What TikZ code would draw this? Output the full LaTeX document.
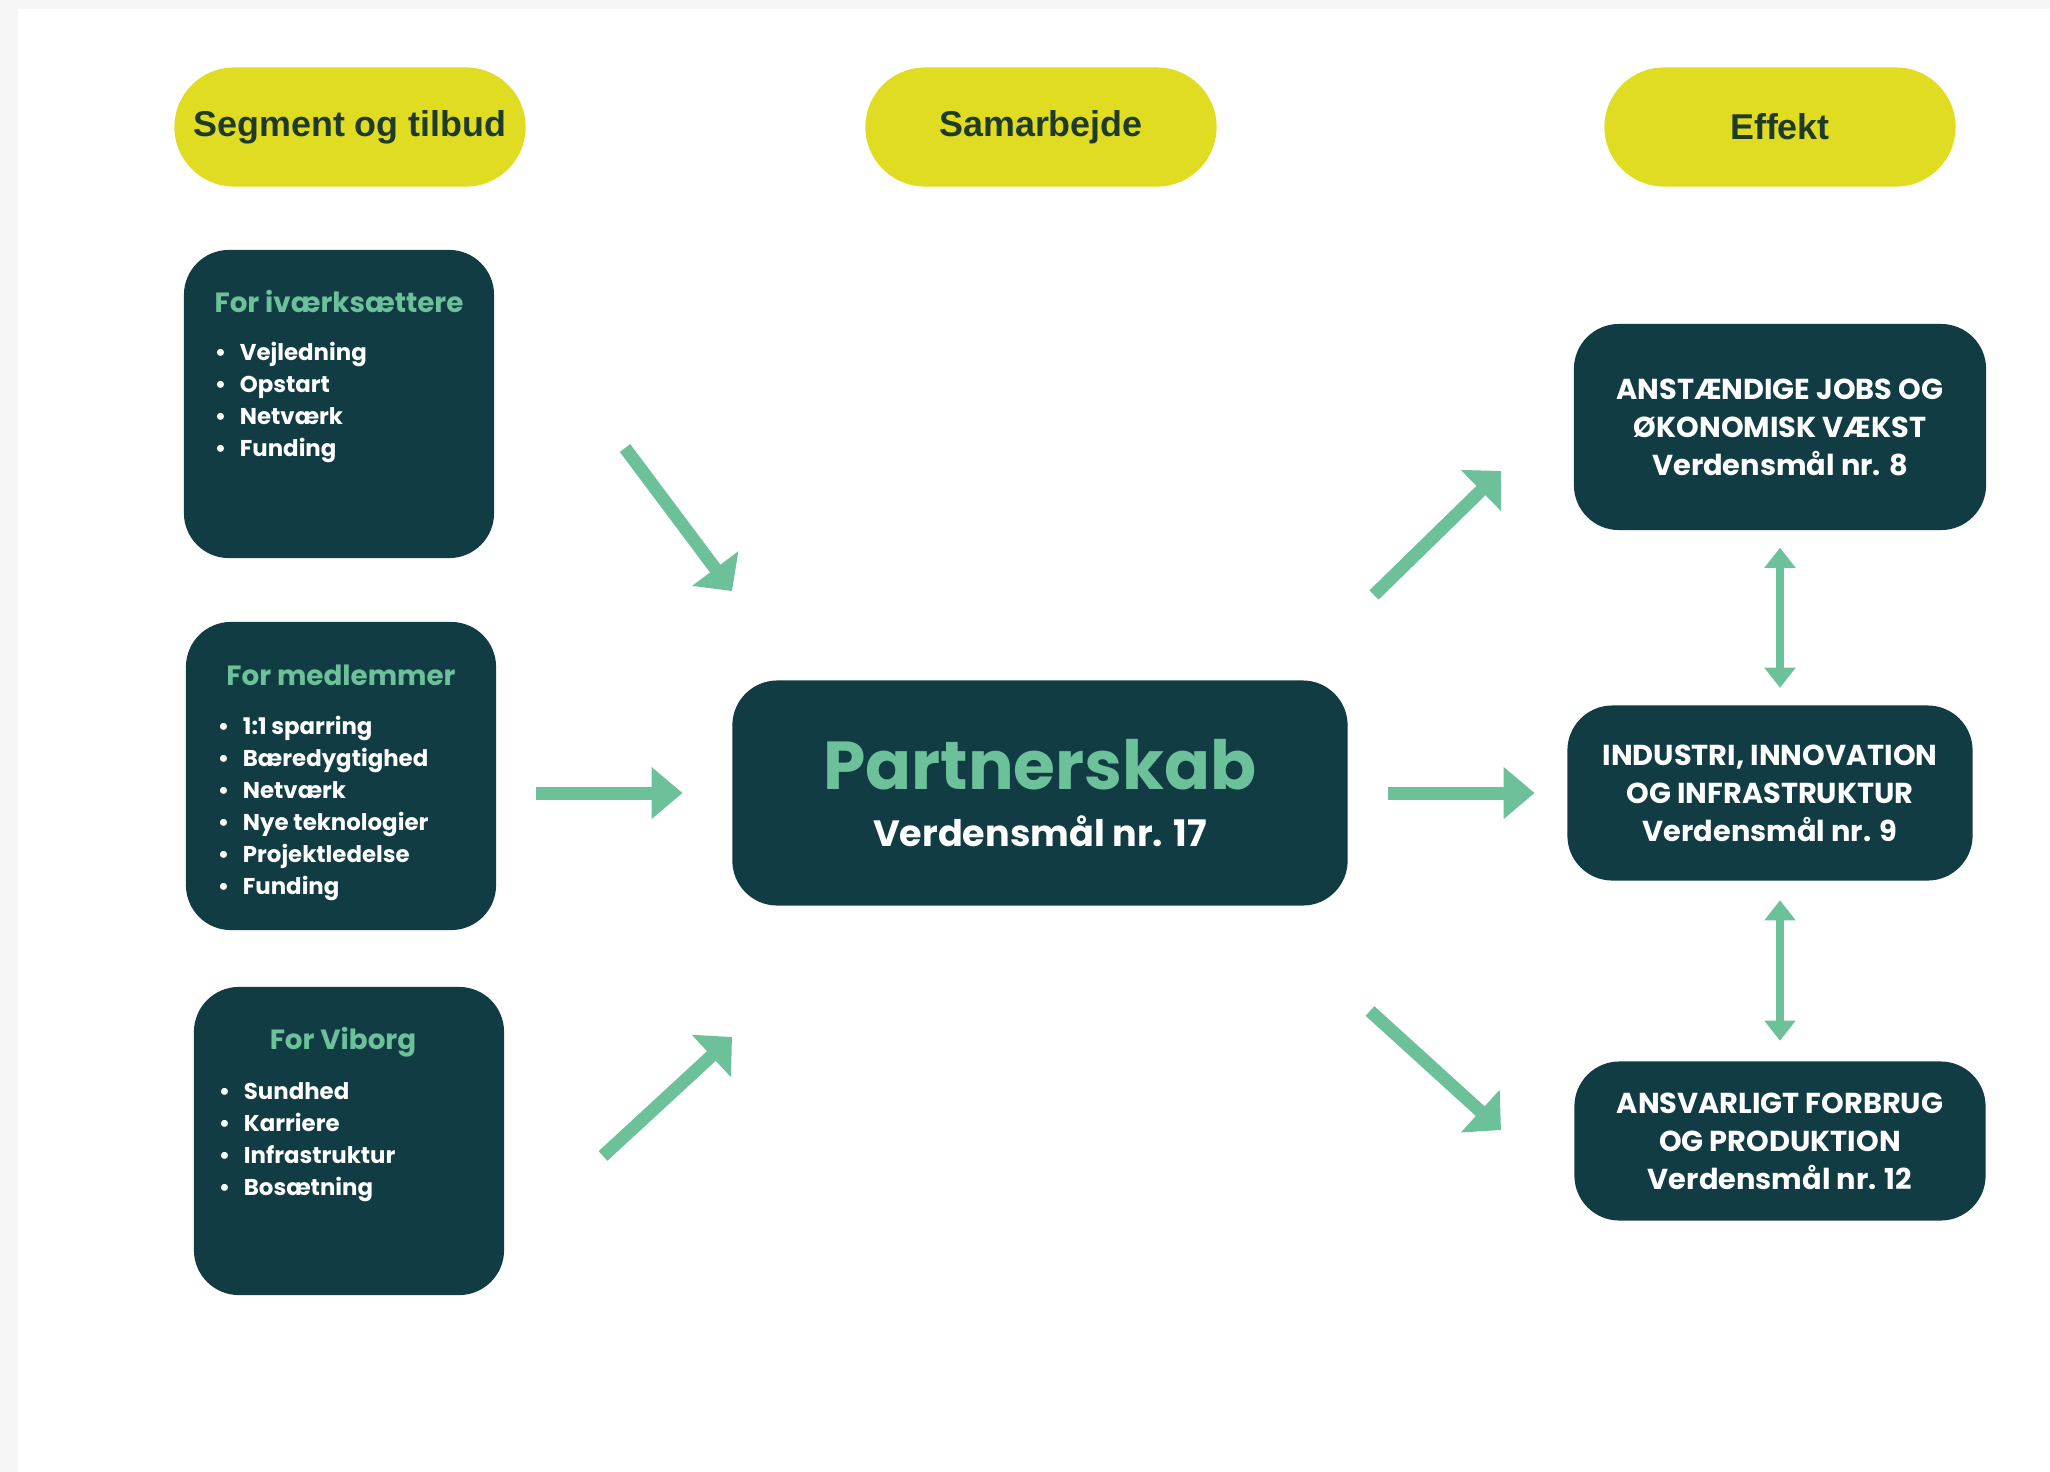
\documentclass[tikz,border=0pt]{standalone}
\usepackage{fontspec}
\setmainfont{Poppins}
\newfontfamily\overfont{Liberation Sans}
\usetikzlibrary{arrows.meta,calc,positioning}
\definecolor{moerk}{HTML}{113C43}
\definecolor{groen}{HTML}{6CC19A}
\definecolor{gul}{HTML}{DFDC22}
\definecolor{overtekst}{HTML}{1F3A26}
\definecolor{kant}{HTML}{F6F6F6}
\tikzset{%
	% Specifications for style of nodes:
	base/.style = {rectangle, rounded corners=0.45cm, fill=moerk, text=white, inner sep=0pt},
	overskrift/.style = {rectangle, rounded corners=0.595cm, fill=gul, text=overtekst,
		minimum width=3.51cm, minimum height=1.19cm, font=\overfont\bfseries\fontsize{10.2}{12}\selectfont},
	segment/.style = {base, minimum width=3.1cm, minimum height=3.08cm},
	titel/.style = {text=groen, inner sep=0pt, font=\bfseries\fontsize{7.9}{9}\selectfont},
	liste/.style = {text=white, inner sep=0pt, align=left, anchor=north west,
		font=\bfseries\fontsize{6.5}{9.1}\selectfont},
	maal/.style = {base, align=center, font=\bfseries\fontsize{8.2}{10.8}\selectfont},
	% Specifications for style of arrows:
	pil/.style = {line width=0.13cm, draw=groen, -{Triangle[width=0.5cm,length=0.31cm]}},
	skraapil/.style = {line width=0.13cm, draw=groen, -{Triangle[width=0.56cm,length=0.28cm]}},
	dobbeltpil/.style = {line width=0.08cm, draw=groen,
		{Triangle[width=0.3cm,length=0.2cm]}-{Triangle[width=0.3cm,length=0.2cm]}}
}
\newcommand{\punkt}[1]{\makebox[0.25cm][l]{\textbullet}#1}

\begin{document}
\begin{tikzpicture}[x=0.01cm, y=-0.01cm]
	\useasboundingbox (0,0) rectangle (2050,1472);
	\fill[kant] (0,0) rectangle (2050,1472);
	\fill[white] (18,9) rectangle (2050,1472);
	% Overskrifter
	\node (p1) [overskrift] at (350,127) {Segment og tilbud};
	\node (p2) [overskrift] at (1041,127) {Samarbejde};
	\node (p3) [overskrift] at (1780,127) {Effekt};
	
	% Segmenter til venstre
	\node (s1) [segment] at (339,404) {};
	\node (s1t) [titel] at ($(s1.north)+(0,52)$) {For iværksættere};
	\node (s1l) [liste] at ($(s1.north west)+(31,92)$) {\punkt{Vejledning}\\\punkt{Opstart}\\
		\punkt{Netværk}\\\punkt{Funding}};
	\node (s2) [segment] at (341,776) {};
	\node (s2t) [titel] at ($(s2.north)+(0,54)$) {For medlemmer};
	\node (s2l) [liste] at ($(s2.north west)+(32,94)$) {\punkt{1:1 sparring}\\\punkt{Bæredygtighed}\\
		\punkt{Netværk}\\\punkt{Nye teknologier}\\\punkt{Projektledelse}\\\punkt{Funding}};
	\node (s3) [segment] at (349,1141) {};
	\node (s3t) [titel] at ($(s3.north)+(-6,56)$) {For Viborg};
	\node (s3l) [liste] at ($(s3.north west)+(25,96)$) {\punkt{Sundhed}\\\punkt{Karriere}\\
		\punkt{Infrastruktur}\\\punkt{Bosætning}};
	
	% Partnerskab i midten
	\node (part) [base, minimum width=6.15cm, minimum height=2.25cm, align=center,
		font=\bfseries\fontsize{10.4}{12}\selectfont] at (1040,793)
		{{\color{groen}\fontsize{19.3}{22}\selectfont Partnerskab}\\[4pt]Verdensmål nr. 17};
	
	% Verdensmaal til hoejre
	\node (m1) [maal, minimum width=4.12cm, minimum height=2.06cm] at (1780,427)
		{ANSTÆNDIGE JOBS OG\\ØKONOMISK VÆKST\\Verdensmål nr. 8};
	\node (m2) [maal, minimum width=4.05cm, minimum height=1.75cm] at (1770,793)
		{INDUSTRI, INNOVATION\\OG INFRASTRUKTUR\\Verdensmål nr. 9};
	\node (m3) [maal, minimum width=4.11cm, minimum height=1.59cm] at (1780,1141)
		{ANSVARLIGT FORBRUG\\OG PRODUKTION\\Verdensmål nr. 12};
	
	% Pile
	\coordinate (a1) at (625,448);
	\coordinate (b1) at (732,591);
	\coordinate (a3) at (603,1156);
	\coordinate (b3) at (732,1037);
	\coordinate (a4) at (1374,595);
	\coordinate (b4) at (1501,471);
	\coordinate (a6) at (1370,1011);
	\coordinate (b6) at (1501,1130);
	\draw[skraapil] (a1) -- (b1);
	\draw[pil, shorten <=0.39cm, shorten >=0.49cm] (s2.east |- part.west) -- (part.west);
	\draw[skraapil] (a3) -- (b3);
	\draw[skraapil] (a4) -- (b4);
	\draw[pil, shorten <=0.4cm, shorten >=0.32cm] (part.east) -- (m2.west);
	\draw[skraapil] (a6) -- (b6);
	\draw[dobbeltpil, shorten <=0.17cm, shorten >=0.17cm] (m1.south) -- (m1.south |- m2.north);
	\draw[dobbeltpil, shorten <=0.19cm, shorten >=0.2cm] (m3.north |- m2.south) -- (m3.north);
\end{tikzpicture}
\end{document}
